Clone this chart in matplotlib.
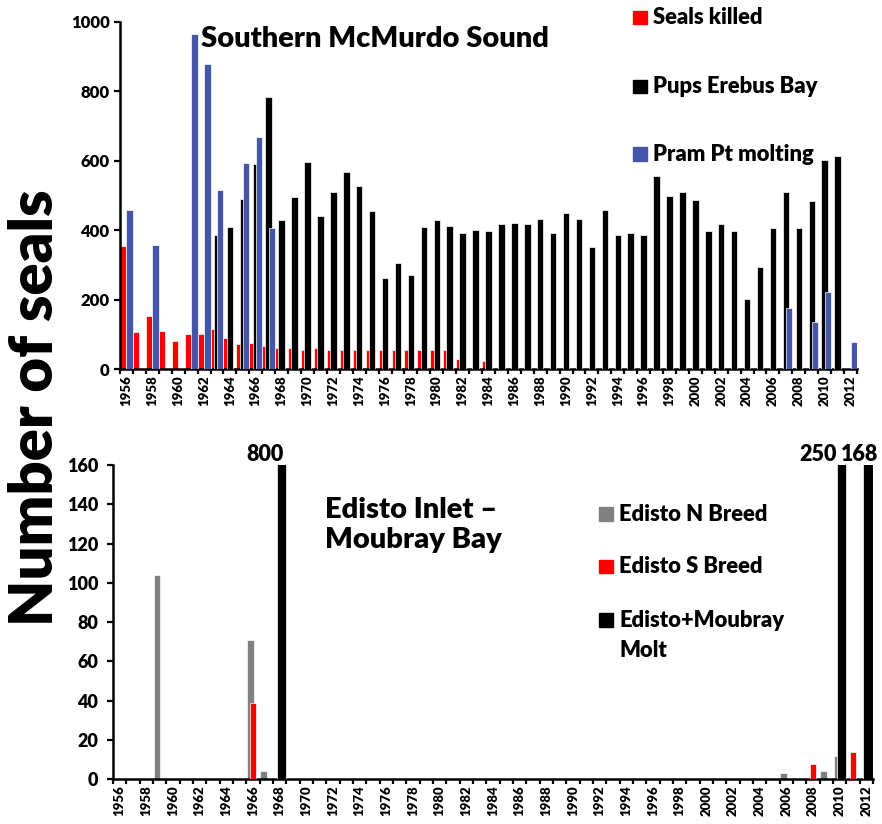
import matplotlib
matplotlib.use("Agg")
import matplotlib.pyplot as plt
import numpy as np
from matplotlib.patches import Rectangle

plt.rcParams["font.family"] = ["Lato", "DejaVu Sans"]
plt.rcParams["font.weight"] = "heavy"
WT = "heavy"

# ---------------- data ----------------
years = list(range(1956, 2013))

# Southern McMurdo Sound
seals_killed = [355, 106, 153, 110, 81, 101, 101, 115, 90, 72, 75, 66, 60, 60,
                55, 60, 55, 55, 55, 55, 55, 55, 55, 55, 55, 55, 29, 0, 23] + [0] * 28
pups_erebus_bay = [0] * 7 + [386, 408, 489, 590, 783, 428, 497, 596, 442, 510,
                             569, 527, 456, 262, 305, 271, 410, 429, 411, 392,
                             400, 397, 418, 421, 418, 431, 391, 449, 432, 351,
                             458, 385, 392, 386, 557, 499, 509, 487, 398, 418,
                             398, 203, 295, 407, 510, 407, 484, 601, 613, 0]
pram_pt_molting = [458, 0, 356, 0, 0, 965, 879, 515, 0, 593, 669, 407] + [0] * 39 + \
                  [177, 0, 135, 221, 0, 78]

# Edisto Inlet - Moubray Bay
edisto_n_years = [1959, 1966, 1967, 2006, 2009, 2010]
edisto_n_counts = [104, 71, 4, 3, 4, 12]
edisto_s_years = [1966, 2008, 2011]
edisto_s_counts = [39, 8, 14]
molt_years = [1968, 2010, 2012]
molt_counts = [800, 250, 168]

top_ticks = [0, 200, 400, 600, 800, 1000]
bottom_ticks = [0, 20, 40, 60, 80, 100, 120, 140, 160]

RED = "#FF0000"
BLUE = "#4455AA"
GRAY = "#808080"
BLACK = "#000000"

# ---------------- figure ----------------
W, H = 882, 824
fig = plt.figure(figsize=(W / 100, H / 100), dpi=100)


def fx(px):
    return px / W


def fy(py):
    return 1 - py / H


ax1 = fig.add_axes([fx(120), fy(369), fx(857) - fx(120), fy(22) - fy(369)])
ax2 = fig.add_axes([fx(113), fy(779.3), fx(873) - fx(113), fy(465) - fy(779.3)])

idx = np.arange(len(years))


def bars(ax, values, offset, width, color, z):
    v = np.asarray(values, dtype=float)
    m = v > 0
    ax.bar(idx[m] + offset, v[m], width=width, color=color, edgecolor="white",
           linewidth=0.5, zorder=z, align="center")


def year_values(yrs, vals):
    out = np.zeros(len(years))
    for y, v in zip(yrs, vals):
        out[years.index(y)] = v
    return out


# Top panel
bars(ax1, seals_killed, 0.25, 0.5, RED, 2)
bars(ax1, pups_erebus_bay, 0.5, 0.5, BLACK, 3)
bars(ax1, pram_pt_molting, 0.75, 0.5, BLUE, 4)

# Bottom panel
bars(ax2, year_values(edisto_n_years, edisto_n_counts), 0.3, 0.5, GRAY, 2)
bars(ax2, year_values(edisto_s_years, edisto_s_counts), 0.5, 0.5, RED, 3)
bars(ax2, year_values(molt_years, molt_counts), 0.635, 0.73, BLACK, 4)

ax1.set_ylim(0, 1000)
ax2.set_ylim(0, 160)

for ax, yt, ysize, ylen, ypad in ((ax1, top_ticks, 12, 4, 3.5),
                                   (ax2, bottom_ticks, 13, 4.5, 6)):
    ax.set_xlim(0, len(years))
    for s in ("top", "right"):
        ax.spines[s].set_visible(False)
    for s in ("left", "bottom"):
        ax.spines[s].set_linewidth(1.8)
    ax.set_xticks(np.arange(len(years) + 1))
    ax.set_xticklabels([])
    ax.set_xticks(idx[::2] + 0.5, minor=True)
    ax.set_xticklabels([str(y) for y in years[::2]], minor=True, rotation=90,
                       fontsize=9.5, fontweight=WT)
    ax.tick_params(axis="x", which="major", direction="out", length=3.5, width=1.6)
    ax.tick_params(axis="x", which="minor", length=0, pad=4.5)
    ax.set_yticks(yt)
    ax.set_yticklabels([str(t) for t in yt], fontsize=ysize, fontweight=WT)
    ax.tick_params(axis="y", direction="out", length=ylen, width=1.6, pad=ypad)

# Value labels over the clipped molt bars
label_dx = [-12, -17, -6.5]
for y, v, dx in zip(molt_years, molt_counts, label_dx):
    ax2.annotate(str(v), xy=(years.index(y) + 0.635, 160), xytext=(dx, 3),
                 textcoords="offset points", ha="center", va="baseline",
                 fontsize=15.5, fontweight=WT, annotation_clip=False)

# Panel titles
fig.text(fx(201), fy(46.7), "Southern McMurdo Sound", fontsize=21,
         fontweight=WT, ha="left", va="baseline")
fig.text(fx(325), fy(518), "Edisto Inlet \u2013", fontsize=21,
         fontweight=WT, ha="left", va="baseline")
fig.text(fx(325), fy(548), "Moubray Bay", fontsize=21,
         fontweight=WT, ha="left", va="baseline")

# Shared y label
fig.text(fx(36), fy(408), "Number of seals", rotation=90, fontsize=43,
         fontweight=WT, ha="center", va="center")


# Legends
def legend_entry(x_box, y_base, color, lines, x_text):
    size = 13.4
    fig.patches.append(Rectangle((fx(x_box), fy(y_base)), fx(size), fy(0) - fy(size),
                                 transform=fig.transFigure, color=color))
    for i, line in enumerate(lines):
        fig.text(fx(x_text), fy(y_base + 30 * i), line, fontsize=15.8,
                 fontweight=WT, ha="left", va="baseline")


legend_entry(633.3, 24, RED, ["Seals killed"], 652.7)
legend_entry(633.3, 93.3, BLACK, ["Pups Erebus Bay"], 652.7)
legend_entry(633.3, 160.7, BLUE, ["Pram Pt molting"], 652.7)

legend_entry(599.3, 520.7, GRAY, ["Edisto N Breed"], 619.3)
legend_entry(599.3, 573.3, RED, ["Edisto S Breed"], 619.3)
legend_entry(599.3, 626.7, BLACK, ["Edisto+Moubray", "Molt"], 619.3)

fig.savefig("out.png", dpi=100)
